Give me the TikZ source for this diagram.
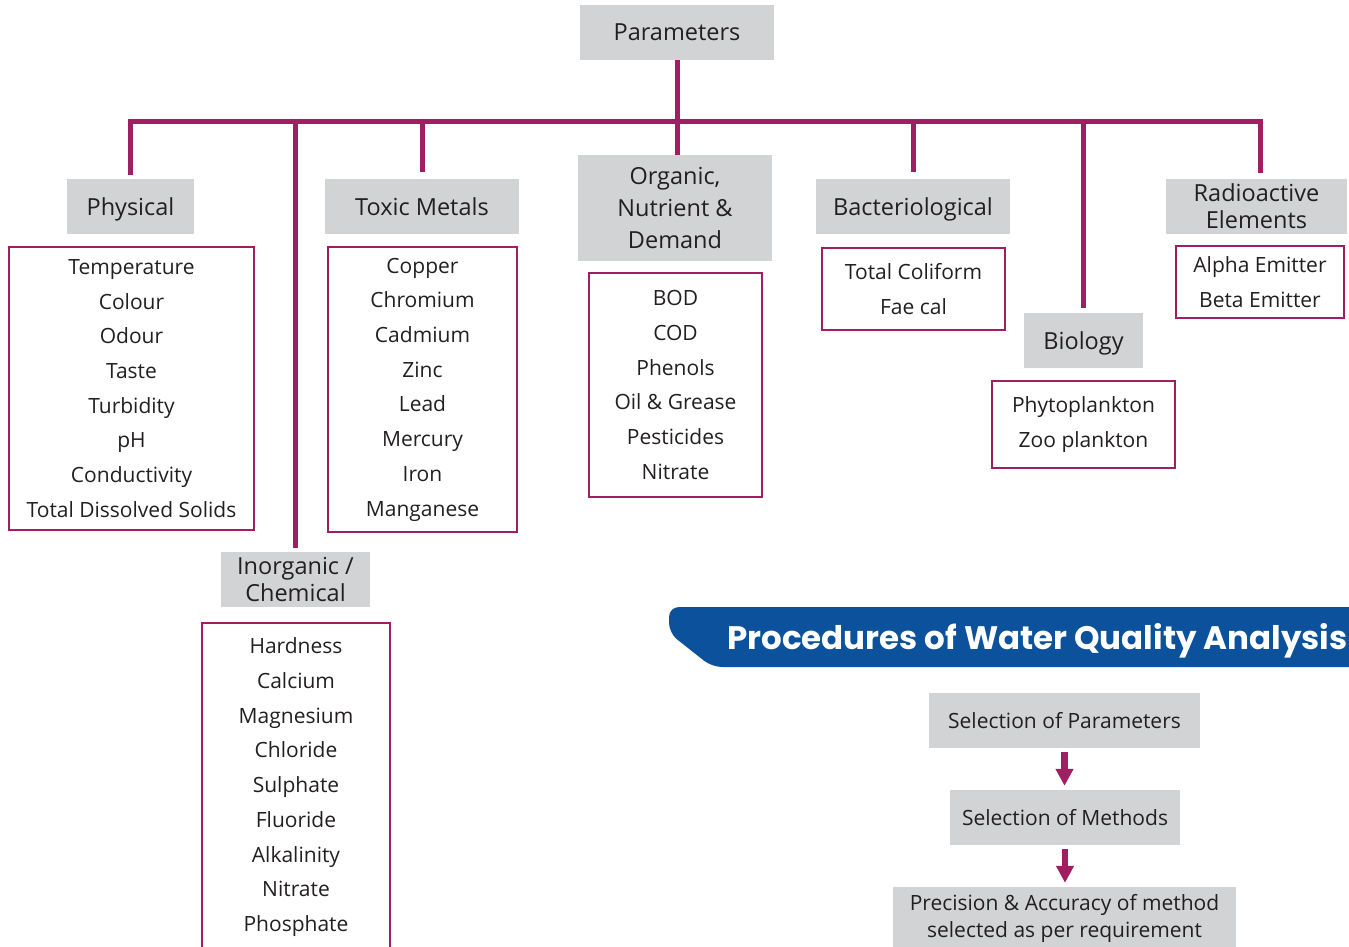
\documentclass[tikz,border=0pt]{standalone}
\usepackage{fontspec}
\setmainfont{Open Sans}
\newfontfamily\bannerfont{Poppins}
\usetikzlibrary{arrows.meta, positioning}
\definecolor{linkmag}{HTML}{A01F63}
\definecolor{headgray}{HTML}{D1D3D4}
\definecolor{bannerblue}{HTML}{0B519C}
\definecolor{inktext}{HTML}{231F20}

\begin{document}
\begin{tikzpicture}[x=1pt, y=-1pt,
    head/.style={fill=headgray, text=inktext, align=center, inner sep=0pt,
        minimum height=55pt, font=\fontsize{23.5}{27}\selectfont},
    headone/.style={head, text depth=0pt},
    listbox/.style={draw=linkmag, line width=1.2pt, text=inktext, align=center,
        inner sep=0pt, font=\fontsize{21}{34.7}\selectfont},
    link/.style={draw=linkmag, line width=5pt},
    stepbox/.style={fill=headgray, text=inktext, align=center, inner sep=0pt,
        minimum height=55pt, font=\fontsize{21}{27}\selectfont},
    flow/.style={draw=linkmag, line width=6.5pt, -{Triangle[width=17pt,length=17pt]},
        shorten <=4pt, shorten >=4pt}]
    \useasboundingbox (0,0) rectangle (1349,947);
    \clip (0,0) rectangle (1349,947);
    % Categories
    \node[headone, minimum width=194pt] (params) at (677,32.5) {Parameters};
    \node[headone, minimum width=127pt] (phys) at (130.5,206.5) {Physical};
    \node[headone, minimum width=194pt] (toxic) at (422,206.5) {Toxic Metals};
    \node[head, minimum width=194pt, minimum height=106pt] (organic) at (675,208)
        {Organic,\\[5pt] Nutrient \&\\[5pt] Demand};
    \node[headone, minimum width=194pt] (bact) at (913,206.5) {Bacteriological};
    \node[headone, minimum width=119pt] (bio) at (1083.5,340.5) {Biology};
    \node[head, minimum width=181pt] (radio) at (1256.5,206.5) {Radioactive\\Elements};
    \node[head, minimum width=149pt] (inorg) at (295.5,579.5) {Inorganic /\\Chemical};
    % Lists
    \node[listbox, minimum width=245pt, minimum height=283pt] (physList) at (131.5,388.5)
        {Temperature\\Colour\\Odour\\Taste\\Turbidity\\pH\\Conductivity\\Total Dissolved Solids};
    \node[listbox, minimum width=189pt, minimum height=285pt] (toxicList) at (422.5,389.5)
        {Copper\\Chromium\\Cadmium\\Zinc\\Lead\\Mercury\\Iron\\Manganese};
    \node[listbox, minimum width=173pt, minimum height=224pt] (organicList) at (675.5,385)
        {BOD\\COD\\Phenols\\Oil \& Grease\\Pesticides\\Nitrate};
    \node[listbox, minimum width=183pt, minimum height=82pt] (bactList) at (913.5,289)
        {Total Coliform\\Fae cal};
    \node[listbox, minimum width=183pt, minimum height=87pt] (bioList) at (1083.5,424.5)
        {Phytoplankton\\Zoo plankton};
    \node[listbox, minimum width=168pt, minimum height=72pt] (radioList) at (1260,282)
        {Alpha Emitter\\Beta Emitter};
    \node[listbox, minimum width=188pt, minimum height=358pt] (inorgList) at (296,802)
        {Hardness\\Calcium\\Magnesium\\Chloride\\Sulphate\\Fluoride\\Alkalinity\\Nitrate\\Phosphate\\\phantom{X}};
    % Tree
    \coordinate (barR) at (1260,122);
    \draw[link] (params.south) -- (params.south |- organic.north);
    \draw[link, shorten <=4pt, shorten >=6pt] (phys.north) |- (barR) -- (barR |- radio.north);
    \foreach \n/\gap in {toxic/7pt, bact/7pt, bio/5pt, inorg/4pt} {
        \draw[link, shorten >=\gap] (\n.north |- barR) -- (\n.north);
    }
    % Procedures
    \fill[bannerblue, rounded corners=10pt] (1365,607) -- (669,607) -- (669,633)
        -- (712,667) -- (1365,667) -- cycle;
    \node[anchor=base west, text=white, inner sep=0pt,
        font=\bannerfont\bfseries\fontsize{32.5}{34}\selectfont] (banner) at (727,649)
        {Procedures of Water Quality Analysis};
    \node[stepbox, minimum width=271pt] (selPar) at (1064.5,720.5) {Selection of Parameters};
    \node[stepbox, minimum width=230pt] (selMet) at (1065,817.5) {Selection of Methods};
    \node[stepbox, minimum width=343pt, minimum height=63pt] (prec) at (1064.5,918.5)
        {Precision \& Accuracy of method\\selected as per requirement};
    \draw[flow] (selPar.south) -- (selPar.south |- selMet.north);
    \draw[flow] (selMet.south) -- (selMet.south |- prec.north);
\end{tikzpicture}
\end{document}
